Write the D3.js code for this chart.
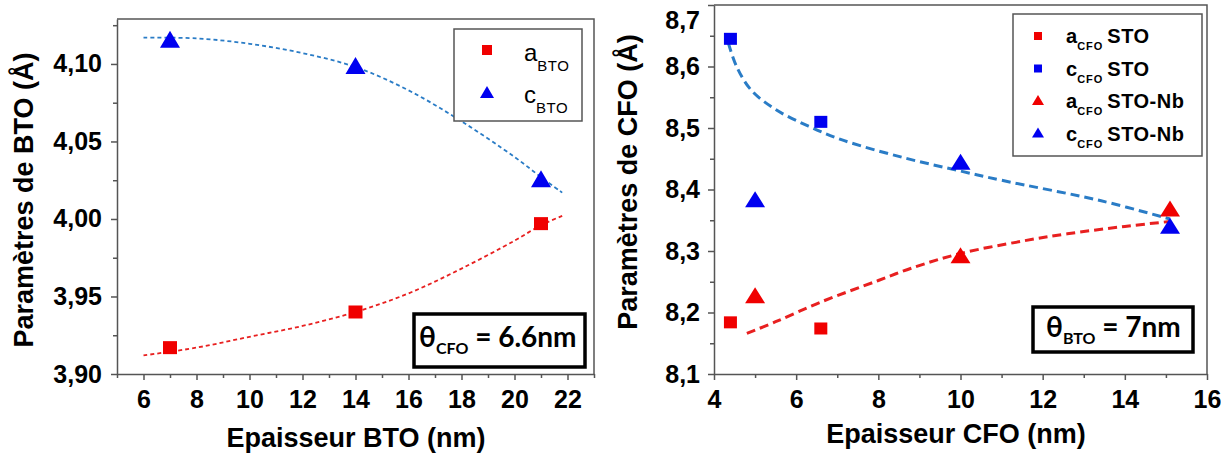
<!DOCTYPE html>
<html>
<head>
<meta charset="utf-8">
<script src="https://cdn.jsdelivr.net/npm/d3@7"></script>
<style>
  body { margin: 0; background: #fff; }
  svg { font-family: Arial, "Liberation Sans", sans-serif; }
  .tick text { font-weight: bold; font-size: 25px; fill: #000; }
  .axis path, .axis line { stroke: #555; stroke-width: 1.5; }
</style>
</head>
<body>
<div id="container"></div>
<script>
// left panel: BTO lattice parameters vs BTO thickness
const btoX = [7, 14, 21];
const aBTO = [3.917, 3.940, 3.997];
const cBTO = [4.116, 4.099, 4.026];
// dashed fit curves
const fitABTO_x = [6, 8, 10, 12, 14, 16, 18, 20, 21, 21.8];
const fitABTO_y = [3.912, 3.917, 3.924, 3.931, 3.940, 3.952, 3.968, 3.986, 3.996, 4.002];
const fitCBTO_x = [6, 8, 10, 12, 14, 16, 18, 20, 21, 21.8];
const fitCBTO_y = [4.117, 4.1165, 4.113, 4.107, 4.098, 4.083, 4.063, 4.040, 4.027, 4.017];

// right panel: CFO lattice parameters vs CFO thickness
const stoX = [4.4, 6.6];
const aCFO_STO = [8.184, 8.174];
const cCFO_STO = [8.645, 8.510];
const nbX = [5, 10, 15.1];
const aCFO_NB = [8.228, 8.293, 8.369];
const cCFO_NB = [8.384, 8.445, 8.341];
const fitACFO_x = [4.8, 5.5, 6.6, 8, 8.8, 10, 11.5, 12.6, 14, 15.1];
const fitACFO_y = [8.166, 8.185, 8.217, 8.252, 8.272, 8.296, 8.316, 8.328, 8.340, 8.348];
const fitCCFO_x = [4.35, 4.55, 4.9, 5.5, 6.3, 7.1, 8.6, 10, 11, 13.4, 15.1];
const fitCCFO_y = [8.638, 8.600, 8.562, 8.530, 8.503, 8.481, 8.452, 8.430, 8.415, 8.382, 8.352];

const leftMajorX = [6, 8, 10, 12, 14, 16, 18, 20, 22];
const leftMinorX = [5, 7, 9, 11, 13, 15, 17, 19, 21, 23];
const leftMajorY = [3.90, 3.95, 4.00, 4.05, 4.10];
const leftMinorY = [3.925, 3.975, 4.025, 4.075, 4.125];
const rightMajorX = [4, 6, 8, 10, 12, 14, 16];
const rightMinorX = [5, 7, 9, 11, 13, 15];
const rightMajorY = [8.1, 8.2, 8.3, 8.4, 8.5, 8.6, 8.7];
const rightMinorY = [8.15, 8.25, 8.35, 8.45, 8.55, 8.65];

const w = 1221, h = 453;
const svg = d3.select("#container").append("svg").attr("width", w).attr("height", h);

const RED = "#f00000", BLUE = "#0000f0";
const RED_FIT = "#e82020", BLUE_FIT = "#2a7cc6";

function comma(fmt) { return d => d3.format(fmt)(d).replace(".", ","); }

function panel(opt) {
  const x = d3.scaleLinear().domain(opt.xDomain).range(opt.xRange);
  const y = d3.scaleLinear().domain(opt.yDomain).range(opt.yRange);
  const g = svg.append("g");
  const bottom = opt.yRange[0], top = opt.yRange[1];
  const left = opt.xRange[0], right = opt.xRange[1];

  // frame top/right
  g.append("path").attr("d", `M${left},${top}H${right}V${bottom}`)
    .attr("fill", "none").attr("stroke", "#555").attr("stroke-width", 1.5);

  g.append("g").attr("class", "axis").attr("transform", `translate(0,${bottom})`)
    .call(d3.axisBottom(x).tickValues(opt.minorX).tickSize(4).tickFormat(""))
    .select(".domain").remove();
  g.append("g").attr("class", "axis").attr("transform", `translate(0,${bottom})`)
    .call(d3.axisBottom(x).tickValues(opt.majorX).tickSize(6).tickSizeOuter(0).tickPadding(10).tickFormat(d3.format("d")));
  g.append("g").attr("class", "axis").attr("transform", `translate(${left},0)`)
    .call(d3.axisLeft(y).tickValues(opt.minorY).tickSize(4).tickFormat(""))
    .select(".domain").remove();
  const ya = g.append("g").attr("class", "axis").attr("transform", `translate(${left},0)`)
    .call(d3.axisLeft(y).tickValues(opt.majorY).tickSize(6).tickSizeOuter(0).tickPadding(opt.yPad).tickFormat(comma(opt.yFmt)));
  if (opt.nudgeTop) ya.selectAll(".tick text").filter(d => d === opt.majorY[opt.majorY.length - 1]).attr("dy", "0.95em");

  // axis titles
  g.append("text").attr("x", opt.xTitle[0]).attr("y", opt.xTitle[1]).attr("text-anchor", "middle")
    .attr("font-weight", "bold").attr("font-size", 27).text(opt.xLabel);
  g.append("text").attr("transform", `translate(${opt.yTitle[0]},${opt.yTitle[1]}) rotate(-90)`)
    .attr("text-anchor", "middle").attr("font-weight", "bold").attr("font-size", 27).text(opt.yLabel);

  const line = d3.line().x(d => x(d[0])).y(d => y(d[1])).curve(d3.curveCatmullRom);
  opt.fits.forEach(f => {
    g.append("path").datum(d3.zip(f.x, f.y)).attr("d", line).attr("fill", "none")
      .attr("stroke", f.color).attr("stroke-width", opt.fitWidth).attr("stroke-dasharray", opt.dash);
  });

  opt.series.forEach(s => {
    const pts = d3.zip(s.x, s.y);
    if (s.shape === "square") {
      g.selectAll(null).data(pts).enter().append("rect")
        .attr("x", d => x(d[0]) - s.sw / 2).attr("y", d => y(d[1]) - s.sh / 2)
        .attr("width", s.sw).attr("height", s.sh).attr("fill", s.color);
    } else {
      const tw = s.sw, th = s.sh;
      g.selectAll(null).data(pts).enter().append("path")
        .attr("d", d => `M${x(d[0])},${y(d[1]) - th / 2}L${x(d[0]) + tw / 2},${y(d[1]) + th / 2}L${x(d[0]) - tw / 2},${y(d[1]) + th / 2}Z`)
        .attr("fill", s.color);
    }
  });
  return g;
}

panel({
  xDomain: [5, 23], xRange: [117, 594],
  yDomain: [3.90, 4.129], yRange: [374, 19],
  majorX: leftMajorX, minorX: leftMinorX, majorY: leftMajorY, minorY: leftMinorY,
  yFmt: ".2f", yPad: 9,
  xLabel: "Epaisseur BTO (nm)", xTitle: [356, 447],
  yLabel: "Paramètres de BTO (Å)", yTitle: [33, 200],
  fitWidth: 1.8, dash: "4,3",
  fits: [{x: fitCBTO_x, y: fitCBTO_y, color: BLUE_FIT}, {x: fitABTO_x, y: fitABTO_y, color: RED_FIT}],
  series: [
    {x: btoX, y: aBTO, shape: "square", color: RED, sw: 14, sh: 13},
    {x: btoX, y: cBTO, shape: "triangle", color: BLUE, sw: 20, sh: 17}
  ]
});

panel({
  xDomain: [4, 16], xRange: [714, 1207],
  yDomain: [8.1, 8.7], yRange: [374, 5],
  majorX: rightMajorX, minorX: rightMinorX, majorY: rightMajorY, minorY: rightMinorY,
  yFmt: ".1f", yPad: 8, nudgeTop: true,
  xLabel: "Epaisseur CFO (nm)", xTitle: [956, 443],
  yLabel: "Paramètres de CFO (Å)", yTitle: [637, 182],
  fitWidth: 3, dash: "9,5",
  fits: [{x: fitCCFO_x, y: fitCCFO_y, color: BLUE_FIT}, {x: fitACFO_x, y: fitACFO_y, color: RED_FIT}],
  series: [
    {x: stoX, y: aCFO_STO, shape: "square", color: RED, sw: 13, sh: 12},
    {x: stoX, y: cCFO_STO, shape: "square", color: BLUE, sw: 13, sh: 12},
    {x: nbX, y: aCFO_NB, shape: "triangle", color: RED, sw: 20, sh: 16},
    {x: nbX, y: cCFO_NB, shape: "triangle", color: BLUE, sw: 20, sh: 16}
  ]
});

// left legend
const lg = svg.append("g");
lg.append("rect").attr("x", 454).attr("y", 29).attr("width", 128).attr("height", 92)
  .attr("fill", "#fff").attr("stroke", "#555").attr("stroke-width", 1.5);
lg.append("rect").attr("x", 482).attr("y", 45).attr("width", 10).attr("height", 10).attr("fill", RED);
lg.append("path").attr("d", "M487,86L494,98L480,98Z").attr("fill", BLUE);
[["a", 61], ["c", 103]].forEach(([t, yb]) => {
  const tx = lg.append("text").attr("x", 524).attr("y", yb).attr("font-size", 24).text(t);
  tx.append("tspan").attr("dy", 10).attr("font-size", 15).attr("letter-spacing", 0.5).text("BTO");
});

// right legend
const rg = svg.append("g");
rg.append("rect").attr("x", 1013).attr("y", 14).attr("width", 189).attr("height", 142)
  .attr("fill", "#fff").attr("stroke", "#555").attr("stroke-width", 1.5);
const legRows = [
  {m: "a", s: "STO", shape: "square", color: RED},
  {m: "c", s: "STO", shape: "square", color: BLUE},
  {m: "a", s: "STO-Nb", shape: "triangle", color: RED},
  {m: "c", s: "STO-Nb", shape: "triangle", color: BLUE}
];
legRows.forEach((r, i) => {
  const cy = 36 + i * 32.5;
  if (r.shape === "square") {
    rg.append("rect").attr("x", 1034).attr("y", cy - 4).attr("width", 8).attr("height", 8).attr("fill", r.color);
  } else {
    rg.append("path").attr("d", `M1038,${cy - 6}L1044,${cy + 4}L1032,${cy + 4}Z`).attr("fill", r.color);
  }
  const tx = rg.append("text").attr("x", 1066).attr("y", cy + 7).attr("font-size", 20).attr("font-weight", "bold").text(r.m);
  tx.append("tspan").attr("dy", 7).attr("font-size", 11).attr("letter-spacing", 1).text("CFO");
  tx.append("tspan").attr("dy", -7).attr("dx", 4).attr("letter-spacing", 0.5).text(r.s);
});

// thickness boxes
function thetaBox(x0, y0, bw, bh, tx, ty, sub, rest) {
  const g = svg.append("g");
  g.append("rect").attr("x", x0).attr("y", y0).attr("width", bw).attr("height", bh)
    .attr("fill", "#fff").attr("stroke", "#000").attr("stroke-width", 3.5);
  const t = g.append("text").attr("x", tx).attr("y", ty).attr("font-family", "Lato, 'Open Sans', sans-serif")
    .attr("font-weight", "bold").attr("font-size", 28).text("θ");
  t.append("tspan").attr("dy", 7).attr("font-size", 16).text(sub);
  t.append("tspan").attr("dy", -7).text(" = " + rest);
}
thetaBox(414, 314, 171, 53, 419, 347, "CFO", "6.6nm");
thetaBox(1033, 307, 160, 45, 1046, 337, "BTO", "7nm");
</script>
</body>
</html>
